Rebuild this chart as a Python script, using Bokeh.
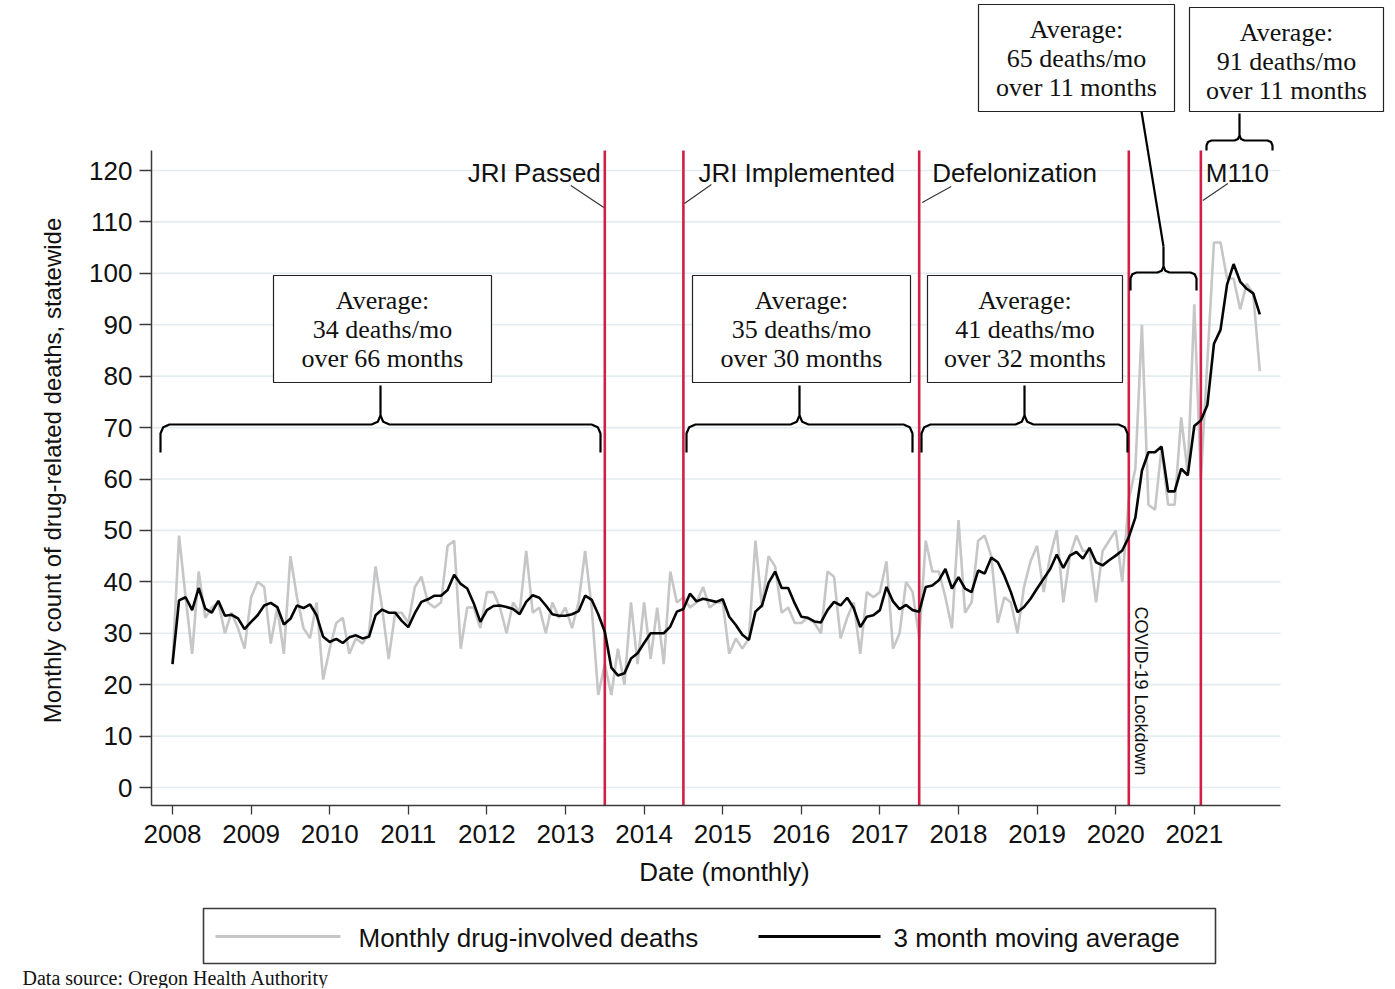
import math
import pandas as pd
from bokeh.plotting import figure
from bokeh.models import Range1d, FixedTicker
from bokeh.layouts import column, row
from bokeh.core.properties import value
from bokeh.embed import file_html
from bokeh.resources import INLINE

# ---------------- data ----------------
first_month = "2008-01"
monthly_deaths = [
    24, 49, 37, 26, 42, 33, 35, 36, 30, 34,
    31, 27, 37, 40, 39, 28, 35, 26, 45, 37,
    31, 29, 36, 21, 27, 32, 33, 26, 29, 28,
    30, 43, 35, 25, 34, 34, 32, 39, 41, 36,
    35, 36, 47, 48, 27, 35, 35, 31, 38, 38,
    35, 30, 36, 34, 46, 34, 35, 30, 36, 33,
    35, 31, 36, 46, 35, 18, 24, 18, 27, 20,
    36, 24, 36, 25, 35, 24, 42, 36, 37, 35,
    36, 39, 35, 36, 36, 26, 29, 27, 29, 48,
    35, 45, 43, 34, 35, 32, 32, 33, 32, 30,
    42, 41, 29, 33, 36, 26, 38, 37, 38, 44,
    27, 30, 40, 38, 29, 48, 42, 42, 37, 31,
    52, 34, 36, 48, 49, 45, 32, 37, 36, 30,
    39, 44, 47, 38, 45, 50, 36, 45, 49, 46,
    46, 36, 46, 48, 50, 40, 56, 62, 90, 55,
    54, 66, 55, 55, 72, 61, 94, 60, 83, 106,
    106, 99, 99, 93, 98, 96, 81,
]
moving_average = [
    24, 36.4, 37, 34.5, 38.8, 34.8, 34, 36.3, 33.4, 33.6,
    32.9, 30.8, 32.2, 33.5, 35.4, 35.9, 35.1, 31.7, 32.8, 35.4,
    34.9, 35.6, 33.5, 29.3, 28.3, 28.9, 28.1, 29.2, 29.6, 29,
    29.3, 33.5, 34.6, 34, 34, 32.4, 31.2, 33.9, 36.1, 36.6,
    37.3, 37.3, 38.4, 41.4, 39.6, 38.7, 35.8, 32.2, 34.5, 35.3,
    35.4, 35.1, 34.7, 33.7, 36.1, 37.4, 36.9, 35.4, 33.7, 33.4,
    33.4, 33.7, 34.3, 37.3, 36.5, 33.7, 30.3, 23.3, 21.8, 22.2,
    25.1, 26.1, 28.1, 30, 30, 30, 31.3, 34.2, 34.7, 37.7,
    36.2, 36.7, 36.4, 36.1, 36.6, 33.2, 31.6, 29.7, 28.7, 34.2,
    35.4, 39.8, 42, 38.8, 38.8, 35.8, 33.2, 33, 32.3, 32.1,
    34.5, 36.1, 35.4, 36.9, 34.9, 31.2, 33.2, 33.5, 34.5, 39,
    36.2, 34.7, 35.5, 34.5, 34.2, 39, 39.3, 40.3, 42.5, 38.7,
    40.9, 38.7, 38, 42.2, 41.6, 44.7, 43.8, 41.2, 38, 34.1,
    35.1, 36.7, 38.7, 40.6, 42.5, 45.3, 42.7, 45.1, 45.8, 44.5,
    46.6, 43.8, 43.2, 44.2, 45.1, 46.1, 48.7, 52.5, 61.6, 65.2,
    65.2, 66.3, 57.6, 57.6, 62, 60.7, 70.3, 71.4, 74.4, 86.3,
    89, 97.8, 101.8, 98.4, 97, 96.1, 92,
]
series_names = ["Monthly drug-involved deaths", "3 month moving average"]
axis_titles = ["Date (monthly)", "Monthly count of drug-related deaths, statewide"]
source_note = "Data source: Oregon Health Authority"
year_ticks = list(range(2008, 2022))
count_ticks = list(range(0, 121, 10))
event_months = ["2013-07", "2014-07", "2017-07", "2020-03", "2021-02"]
event_names = ["JRI Passed", "JRI Implemented", "Defelonization", "COVID-19 Lockdown", "M110"]
period_avg = [34, 35, 41, 65, 91]
period_months = [66, 30, 32, 11, 11]

months = pd.period_range(first_month, periods=len(monthly_deaths), freq="M")
xm = [pr.year + (pr.month - 1) / 12 for pr in months]
ev = [pd.Period(s, freq="M") for s in event_months]
ex = [e.year + (e.month - 1) / 12 for e in ev]

# ---------------- layout helpers (page pixels -> data) ----------------
PPY = 78.6
PPV = 617 / 120.0


def X(px):
    return 2008 + (px - 172) / PPY


def Y(py):
    return (787 - py) / PPV


def PX(x):
    return 172 + (x - 2008) * PPY


SANS = "Liberation Sans"
SERIF = "Liberation Serif"
INK = "#111111"
RED = "#d21f45"

TOTAL_W = 1390
STRIP_W = 80          # left strip holding the rotated y title
MAIN_H = 856          # main figure height (page 0..856)
BOTTOM_H = 988 - MAIN_H


def no_align(fig):
    try:
        fig.frame_align = False
    except Exception:
        pass


# ---------------- left strip: y-axis title ----------------
ps = figure(width=STRIP_W, height=MAIN_H, title=None, output_backend="svg",
            toolbar_location=None, x_range=Range1d(0, STRIP_W), y_range=Range1d(MAIN_H, 0),
            min_border_left=0, min_border_right=0, min_border_top=0, min_border_bottom=0,
            x_axis_location=None, y_axis_location=None,
            background_fill_color="white", border_fill_color="white", outline_line_color=None)
ps.grid.visible = False
no_align(ps)
ps.text(x=[52], y=[470], text=[axis_titles[1]], angle=math.pi / 2, text_align="center",
        text_baseline="middle", text_font=value(SANS), text_font_size="24px", text_color=INK)

# ---------------- main figure ----------------
p = figure(width=TOTAL_W - STRIP_W, height=MAIN_H, title=None, output_backend="svg",
           toolbar_location=None,
           x_range=Range1d(X(151), X(TOTAL_W)), y_range=Range1d(Y(805), Y(0)),
           min_border_left=151 - STRIP_W, min_border_right=0, min_border_top=0,
           min_border_bottom=MAIN_H - 805,
           background_fill_color="white", border_fill_color="white", outline_line_color=None)
p.grid.visible = False
no_align(p)

xa = p.xaxis[0]
xa.ticker = FixedTicker(ticks=year_ticks)
xa.bounds = (X(151), X(1280))
xa.axis_line_color = "#3a3a3a"
xa.axis_line_width = 1.5
xa.major_tick_out = 9
xa.major_tick_in = 0
xa.minor_tick_out = 0
xa.minor_tick_in = 0
xa.major_tick_line_color = "#3a3a3a"
xa.major_tick_line_width = 1.3
xa.major_label_text_font = SANS
xa.major_label_text_font_size = "26px"
xa.major_label_text_color = INK
xa.major_label_standoff = 10

ya = p.yaxis[0]
ya.ticker = FixedTicker(ticks=count_ticks)
ya.bounds = (Y(805), Y(150))
ya.axis_line_color = "#3a3a3a"
ya.axis_line_width = 1.5
ya.major_tick_out = 12
ya.major_tick_in = 0
ya.minor_tick_out = 0
ya.minor_tick_in = 0
ya.major_tick_line_color = "#3a3a3a"
ya.major_tick_line_width = 1.3
ya.major_label_text_font = SANS
ya.major_label_text_font_size = "26px"
ya.major_label_text_color = INK
ya.major_label_standoff = 7

# horizontal gridlines
p.segment(x0=[X(152)] * len(count_ticks), x1=[X(1280)] * len(count_ticks),
          y0=count_ticks, y1=count_ticks, line_color="#e3ecef", line_width=1.6)

# series
p.line(xm, monthly_deaths, line_color="#c6c6c6", line_width=2.6)

# event lines
p.segment(x0=ex, x1=ex, y0=[Y(805)] * len(ex), y1=[Y(150)] * len(ex),
          line_color=RED, line_width=2.6)

p.line(xm, moving_average, line_color="#050505", line_width=2.6)

# event labels with leaders
ev_px = [PX(v) for v in ex]
label_specs = [  # (event index, text dx, align, leader start, leader end)
    (0, -4, "right", (-34, 185), (-1, 207)),
    (1, 15, "left", (28, 184), (1, 203)),
    (2, 13, "left", (32, 186), (3, 202)),
    (4, 5, "left", (27, 183), (2, 200)),
]
for i, dx, align, (ax0, ay0), (ax1, ay1) in label_specs:
    p.text(x=[X(ev_px[i] + dx)], y=[Y(172)], text=[event_names[i]], text_align=align,
           text_baseline="middle", text_font=value(SANS), text_font_size="26px",
           text_color=INK)
    p.line([X(ev_px[i] + ax0), X(ev_px[i] + ax1)], [Y(ay0), Y(ay1)],
           line_color="#333333", line_width=1.1)

p.text(x=[X(ev_px[3] + 12)], y=[Y(606)], text=[event_names[3]], angle=-math.pi / 2,
       text_align="left", text_baseline="middle", text_font=value(SANS),
       text_font_size="18px", text_color=INK)

# curly brackets (page-pixel layout)
brackets = [
    (160, 600, 424, 452, 385, 9),
    (686, 912, 424, 452, 385, 9),
    (921, 1127, 424, 452, 385, 9),
    (1130, 1196, 272, 290, 246, 6),
    (1206, 1272, 140, 150, 113, 5),
]
bxs, bys = [], []
for xa_, xb_, yh, yt, ys, r in brackets:
    xmid = (xa_ + xb_) / 2
    left = [(xa_, yt), (xa_, yh + r), (xa_ + 0.3 * r, yh + 0.3 * r), (xa_ + r, yh),
            (xmid - r, yh), (xmid - 0.3 * r, yh - 0.3 * r), (xmid, yh - r), (xmid, ys)]
    right = [(xmid, yh - r), (xmid + 0.3 * r, yh - 0.3 * r), (xmid + r, yh),
             (xb_ - r, yh), (xb_ - 0.3 * r, yh + 0.3 * r), (xb_, yh + r), (xb_, yt)]
    for path in (left, right):
        bxs.append([X(a) for a, _ in path])
        bys.append([Y(b) for _, b in path])
# leader from upper-left box to COVID bracket
bxs.append([X(1163), X(1141)])
bys.append([Y(246), Y(111)])
p.multi_line(bxs, bys, line_color="#000000", line_width=2.2)

# average boxes
boxes = [  # left, right, top, bottom
    (273, 491, 275, 382),
    (692, 910, 275, 382),
    (927, 1122, 275, 382),
    (978, 1174, 4, 111),
    (1189, 1383, 7, 111),
]
p.quad(left=[X(b[0]) for b in boxes], right=[X(b[1]) for b in boxes],
       top=[Y(b[2]) for b in boxes], bottom=[Y(b[3]) for b in boxes],
       fill_color="white", line_color="#222222", line_width=1.2)
tx, ty, tt = [], [], []
for (l, r_, t, b), a, n in zip(boxes, period_avg, period_months):
    lines = ["Average:", f"{a} deaths/mo", f"over {n} months"]
    for k, s in enumerate(lines):
        tx.append(X((l + r_) / 2))
        ty.append(Y(t + 25 + 29 * k))
        tt.append(s)
p.text(x=tx, y=ty, text=tt, text_align="center", text_baseline="middle",
       text_font=value(SERIF), text_font_size="26px", text_color=INK)

# ---------------- bottom strip: x title, legend, source ----------------
TOP2 = MAIN_H
p2 = figure(width=TOTAL_W, height=BOTTOM_H, title=None, output_backend="svg",
            toolbar_location=None,
            x_range=Range1d(0, TOTAL_W), y_range=Range1d(BOTTOM_H, 0),
            min_border_left=0, min_border_right=0, min_border_top=0, min_border_bottom=0,
            x_axis_location=None, y_axis_location=None,
            background_fill_color="white", border_fill_color="white", outline_line_color=None)
p2.grid.visible = False
no_align(p2)


def by(py):
    return py - TOP2


p2.text(x=[724], y=[by(871)], text=[axis_titles[0]], text_align="center",
        text_baseline="middle", text_font=value(SANS), text_font_size="26px",
        text_color=INK)
p2.quad(left=[203], right=[1215], top=[by(908)], bottom=[by(963)],
        fill_color="white", line_color="#3a3a3a", line_width=1.6)
p2.line([215, 340], [by(936), by(936)], line_color="#c6c6c6", line_width=3)
p2.line([758, 880], [by(936), by(936)], line_color="#050505", line_width=3)
p2.text(x=[358, 893], y=[by(937), by(937)], text=series_names,
        text_align="left", text_baseline="middle", text_font=value(SANS),
        text_font_size="26px", text_color=INK)
p2.text(x=[22], y=[by(977)], text=[source_note],
        text_align="left", text_baseline="middle", text_font=value(SERIF),
        text_font_size="20px", text_color=INK)

layout = column(row(ps, p, spacing=0), p2, spacing=0)
open("out.html", "w").write(file_html(layout, INLINE))
